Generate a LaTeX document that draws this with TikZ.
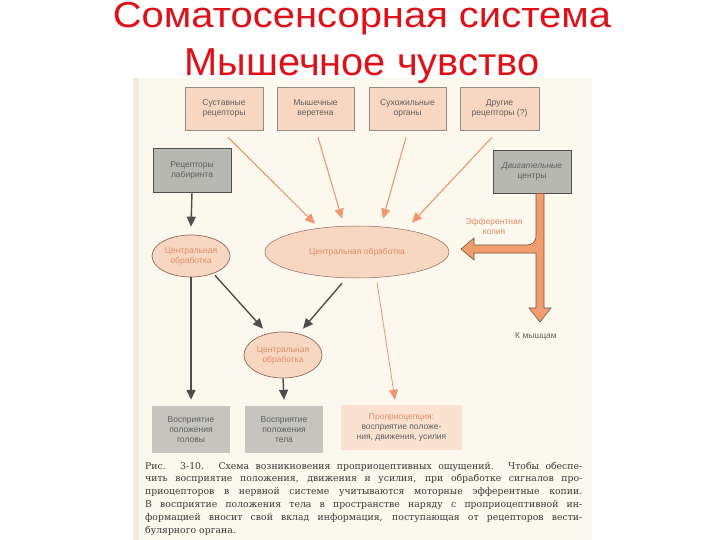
\documentclass[tikz,border=0pt]{standalone}
\usepackage{fontspec}
\usepackage{graphicx}
\setmainfont{Liberation Sans}
\newfontfamily\capfont{DejaVu Serif}
\usetikzlibrary{arrows.meta,shapes.geometric}
\definecolor{titlered}{RGB}{222,16,24}
\definecolor{cream}{RGB}{251,248,238}
\definecolor{creamedge}{RGB}{240,235,222}
\definecolor{peach}{RGB}{247,214,194}
\definecolor{peachlight}{RGB}{251,226,208}
\definecolor{boxline}{RGB}{150,138,130}
\definecolor{graybox}{RGB}{184,184,178}
\definecolor{graybox2}{RGB}{197,196,191}
\definecolor{darkline}{RGB}{78,78,78}
\definecolor{orangeline}{RGB}{240,150,110}
\definecolor{thickfill}{RGB}{240,158,110}
\definecolor{thickline}{RGB}{120,80,60}
\definecolor{txtgray}{RGB}{95,95,95}
\definecolor{txtorange}{RGB}{222,140,108}
\definecolor{captext}{RGB}{55,55,55}
\definecolor{elline}{RGB}{140,105,90}
\tikzset{
  lbl/.style={font=\fontsize{8.5}{10}\selectfont, align=center},
  pbox/.style={lbl, draw=boxline, line width=0.6pt, fill=peach, text=txtgray, minimum width=78pt, minimum height=43pt, inner sep=0pt},
  gbox/.style={lbl, draw=darkline, line width=0.8pt, fill=graybox, text=txtgray, minimum width=78pt, minimum height=43pt, inner sep=0pt},
  gbox2/.style={lbl, fill=graybox2, text=txtgray, minimum width=78pt, minimum height=47pt, inner sep=0pt},
  ell/.style={lbl, ellipse, draw=elline, line width=0.7pt, fill=peach, text=txtorange, inner sep=0pt},
  oarr/.style={draw=orangeline, line width=1.1pt, -{Triangle[length=10pt,width=9pt]}},
  darr/.style={draw=darkline, line width=1.4pt, -{Triangle[length=10pt,width=9pt]}},
}
\begin{document}
\begin{tikzpicture}[x=1pt,y=-1pt]
\useasboundingbox (0,0) rectangle (720,540);
\fill[white] (0,0) rectangle (720,540);
% scanned page
\fill[cream] (133,78) rectangle (592,540);
\fill[creamedge] (133,78) rectangle (139,540);
% title
\node[anchor=base, text=titlered, font=\fontsize{36}{36}\selectfont] (t1) at (362,28) {\scalebox{1.11}[1]{Соматосенсорная система}};
\node[anchor=base, text=titlered, font=\fontsize{39}{39}\selectfont] (t2) at (362,76) {\scalebox{1.02}[1]{Мышечное чувство}};
% top boxes
\node[pbox] (A) at (224,108.5) {Суставные\\рецепторы};
\node[pbox, minimum width=77pt] (B) at (315.5,108.5) {Мышечные\\веретена};
\node[pbox, minimum width=77pt] (C) at (407.5,108.5) {Сухожильные\\органы};
\node[pbox, minimum width=79pt] (D) at (499.5,108.5) {Другие\\рецепторы (?)};
\node[gbox, minimum height=44pt] (lab) at (192,170) {Рецепторы\\лабиринта};
\node[gbox] (mot) at (532,171.5) {\textit{Двигательные}\\центры};
% ellipses
\node[ell, minimum width=78pt, minimum height=42pt] (L) at (191,256) {Центральная\\обработка};
\node[ell, minimum width=184pt, minimum height=52pt, line width=0.5pt] (big) at (357,252) {Центральная обработка};
\node[ell, minimum width=78pt, minimum height=46pt] (E3) at (283,355) {Центральная\\обработка};
% bottom boxes
\node[gbox2] (head) at (191,429.5) {Восприятие\\положения\\головы};
\node[gbox2] (body) at (284,429.5) {Восприятие\\положения\\тела};
\node[gbox2, fill=peachlight, minimum width=121pt, minimum height=45pt] (prop) at (401.5,427.5) {\textcolor{txtorange}{Проприоцепция:}\\восприятие положе-\\ния, движения, усилия};
% orange arrows to central processing
\draw[oarr] ([xshift=4pt,yshift=-7pt]A.south) -- ([xshift=-42pt,yshift=2pt]big.north);
\draw[oarr] ([xshift=2.5pt,yshift=-7pt]B.south) -- ([xshift=-15pt,yshift=7pt]big.north);
\draw[oarr] ([xshift=-1.5pt,yshift=-7pt]C.south) -- ([xshift=26pt,yshift=7pt]big.north);
\draw[oarr] ([xshift=-7.5pt,yshift=-7pt]D.south) -- ([xshift=55pt,yshift=3pt]big.north);
\draw[oarr, line width=0.8pt] ([xshift=20pt,yshift=-4pt]big.south) -- ([xshift=-6.5pt,yshift=5pt]prop.north);
% dark arrows
\draw[darr] (lab.south) -- ([yshift=8pt]L.north);
\draw[darr] (L.south) -- ([yshift=6pt]head.north);
\draw[darr] ([xshift=24pt,yshift=2pt]L.south) -- ([xshift=-20pt,yshift=3pt]E3.north);
\draw[darr] ([xshift=-15pt,yshift=-5pt]big.south) -- ([xshift=20pt,yshift=3pt]E3.north);
\draw[darr] (E3.south) -- ([yshift=6pt]body.north);
% thick efferent arrow
\coordinate (effo) at (mot.south);
\fill[thickfill, draw=thickline, line width=0.6pt]
  ([xshift=4pt]effo) -- (536,235) .. controls (536,243) and (532,245) .. (526,245)
  -- (474,245) -- (474,238) -- (461,249) -- (474,260) -- (474,253) -- (536,253)
  -- (536,308) -- (529,308) -- (540,322) -- (551,308) -- (544,308) -- ([xshift=12pt]effo) -- cycle;
\node[lbl, text=txtorange] (eff) at (494,226.5) {Эфферентная\\копия};
\node[lbl, text=txtgray] (mus) at (536,336) {К мышцам};
% caption
\node[anchor=base west, inner sep=0pt, text=captext] (cap) at (145,469) {\parbox[t]{437pt}{\capfont\fontsize{9.3}{12.8}\selectfont
\makebox[437pt][s]{Рис. 3-10. Схема возникновения проприоцептивных ощущений. Чтобы обеспе-}\\
\makebox[437pt][s]{чить восприятие положения, движения и усилия, при обработке сигналов про-}\\
\makebox[437pt][s]{приоцепторов в нервной системе учитываются моторные эфферентные копии.}\\
\makebox[437pt][s]{В восприятие положения тела в пространстве наряду с проприоцептивной ин-}\\
\makebox[437pt][s]{формацией вносит свой вклад информация, поступающая от рецепторов вести-}\\
булярного органа.}};
\end{tikzpicture}
\end{document}
